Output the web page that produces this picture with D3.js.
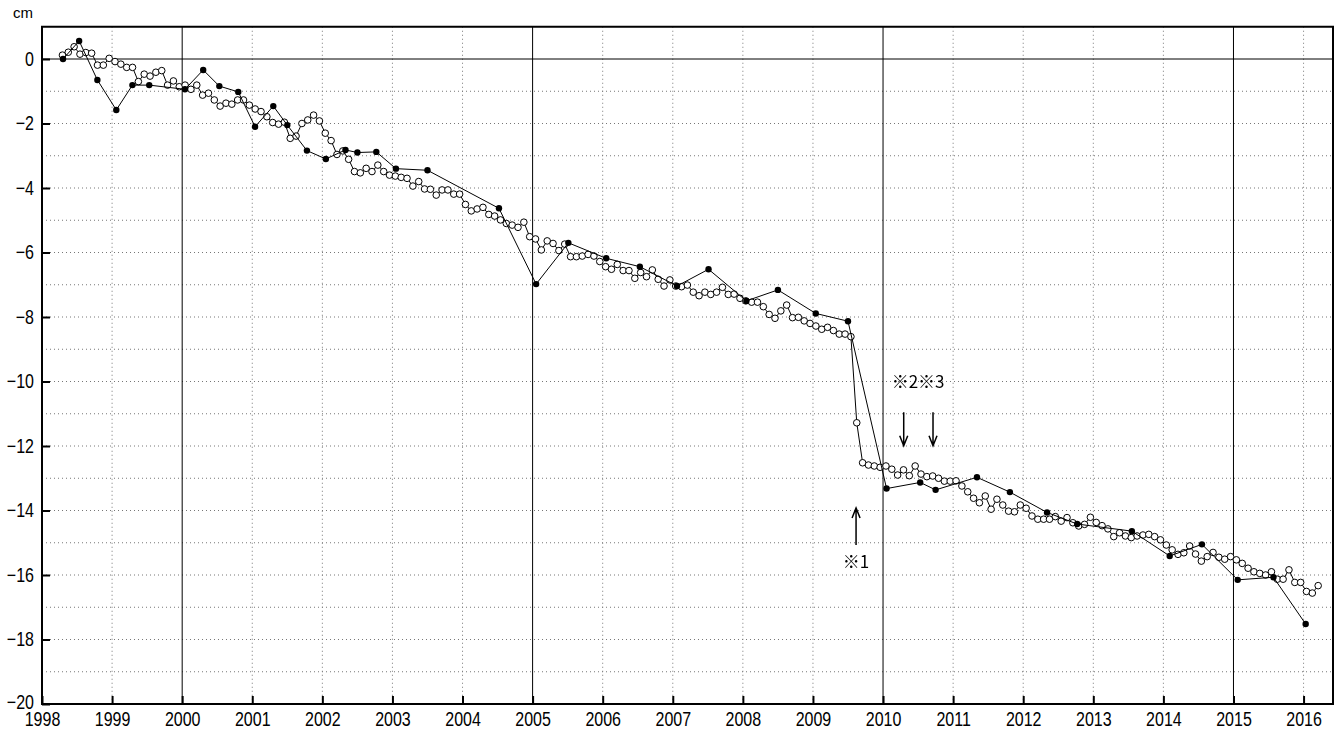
<!DOCTYPE html>
<html>
<head>
<meta charset="utf-8">
<script src="https://cdn.jsdelivr.net/npm/d3@7"></script>
<style>
  body { margin: 0; background: #fff; }
  text { font-family: "Liberation Sans", "Noto Sans CJK JP", sans-serif; fill: #000; }
  text.note { font-family: "Noto Sans CJK JP", sans-serif; }
  g.ann { filter: grayscale(1); }
</style>
</head>
<body>
<div id="chart"></div>
<script>
// monthly series (open circles), first value = April 1998
var monthlyStart = { year: 1998, month: 4 };
var monthlyValues = [
  0.12,0.21,0.38,0.15,0.2,0.18,-0.19,-0.19,0.02,-0.08,
  -0.16,-0.26,-0.26,-0.7,-0.47,-0.53,-0.41,-0.36,-0.81,-0.68,
  -0.86,-0.81,-0.94,-0.81,-1.12,-1.06,-1.27,-1.46,-1.37,-1.4,
  -1.27,-1.27,-1.43,-1.55,
  -1.63,-1.79,-1.97,-2.02,-1.96,-2.46,-2.39,-2.0,-1.89,-1.74,
  -1.92,-2.3,-2.53,-2.96,-2.85,-3.11,-3.49,-3.53,-3.39,-3.49,
  -3.29,-3.49,-3.6,-3.63,-3.67,-3.7,-3.94,-3.8,-4.03,-4.04,
  -4.22,-4.06,-4.06,-4.19,-4.19,
  -4.51,-4.71,-4.65,-4.6,-4.82,-4.87,-4.99,-5.1,-5.15,-5.22,
  -5.06,-5.51,-5.58,-5.92,-5.64,-5.72,-5.94,-5.74,-6.13,-6.13,
  -6.11,-6.06,-6.11,-6.28,-6.44,-6.52,-6.37,-6.56,-6.56,-6.8,
  -6.62,-6.75,-6.54,-6.83,-7.04,-6.85,-7.04,
  -7.06,-7.01,-7.23,-7.34,-7.23,-7.3,-7.23,-7.08,-7.3,-7.29,
  -7.42,-7.5,-7.54,-7.54,-7.68,-7.92,-8.04,-7.81,-7.63,-8.02,
  -8.01,-8.12,-8.2,-8.28,-8.38,-8.32,-8.42,-8.53,-8.53,-8.61,
  -11.28,-12.52,-12.59,-12.62,-12.66,-12.62,
  -12.72,-12.9,-12.74,-12.92,-12.62,-12.87,-12.95,-12.93,-13.0,-13.09,
  -13.09,-13.08,-13.24,-13.42,-13.62,-13.76,-13.55,-13.96,-13.65,-13.83,
  -14.02,-14.04,-13.83,-13.93,-14.17,-14.27,-14.27,-14.27,-14.19,-14.33,
  -14.22,-14.38,-14.48,-14.43,-14.21,-14.37,
  -14.47,-14.57,-14.81,-14.69,-14.79,-14.84,-14.79,-14.76,-14.74,-14.81,
  -14.91,-15.07,-15.22,-15.36,-15.31,-15.1,-15.35,-15.57,-15.43,-15.3,
  -15.45,-15.51,-15.43,-15.53,-15.64,-15.79,-15.9,-15.95,-16.0,-15.9,
  -16.13,-16.13,-15.84,-16.23,-16.23,-16.51,-16.56,-16.33
];

// survey series (filled dots), decimal years
var surveyDates = [
  1998.3,1998.53,1998.79,1999.06,1999.29,1999.53,2000.04,2000.3,2000.53,2000.8,
  2001.04,2001.3,2001.5,2001.78,2002.05,2002.33,2002.5,2002.77,2003.05,2003.5,
  2004.52,2005.05,2005.51,2006.05,2006.53,2007.06,2007.51,2008.05,2008.5,2009.04,
  2009.5,2010.05,2010.53,2010.75,2011.34,2011.81,2012.34,2012.77,2013.55,2014.09,
  2014.55,2015.06,2015.57,2016.03
];
var surveyValues = [
  0.0,0.56,-0.65,-1.58,-0.81,-0.81,-0.94,-0.34,-0.84,-1.02,
  -2.1,-1.46,-2.05,-2.84,-3.1,-2.82,-2.9,-2.88,-3.4,-3.45,
  -4.63,-6.98,-5.7,-6.18,-6.44,-7.04,-6.52,-7.5,-7.16,-7.89,
  -8.13,-13.32,-13.13,-13.36,-12.97,-13.43,-14.06,-14.42,-14.64,-15.41,
  -15.05,-16.15,-16.07,-17.52
];

var yearTicks = d3.range(1998, 2017);
var majorYears = [2000, 2005, 2010, 2015];
var valueTicks = d3.range(0, -21, -2);
var gridValues = d3.range(1, -20, -1);

var notes = [
  { label: "※1", x: 2009.615, labelY: -15.63, from: -15.07, to: -13.92 },
  { label: "※2", x: 2010.295, from: -10.95, to: -11.99 },
  { label: "※3", x: 2010.713, from: -10.95, to: -11.99 }
];

var W = 1341, H = 731;
var svg = d3.select("#chart").append("svg").attr("width", W).attr("height", H);

var x = d3.scaleLinear().domain([1998, 2016.42]).range([42, 1333]);
var y = d3.scaleLinear().domain([-20, 1]).range([704, 26.75]);

var monthly = monthlyValues.map(function(v, i) {
  return { t: monthlyStart.year + (monthlyStart.month - 1 + i + 0.5) / 12, v: v };
});
var survey = surveyDates.map(function(t, i) { return { t: t, v: surveyValues[i] }; });

// grid
var grid = svg.append("g");
grid.selectAll("line.vg").data(yearTicks.filter(function(d) { return d > 1998 && majorYears.indexOf(d) < 0; }))
  .enter().append("line")
  .attr("x1", function(d) { return x(d); }).attr("x2", function(d) { return x(d); })
  .attr("y1", y(1)).attr("y2", y(-20))
  .attr("stroke", "#777").attr("stroke-width", 1).attr("stroke-dasharray", "1,3");
grid.selectAll("line.hg").data(gridValues.filter(function(d) { return d !== 0 && d < 1 && d > -20; }))
  .enter().append("line")
  .attr("x1", x(1998)).attr("x2", x(2016.42))
  .attr("y1", function(d) { return y(d); }).attr("y2", function(d) { return y(d); })
  .attr("stroke", "#777").attr("stroke-width", 1).attr("stroke-dasharray", "1,3");
grid.selectAll("line.mj").data(majorYears)
  .enter().append("line")
  .attr("x1", function(d) { return x(d); }).attr("x2", function(d) { return x(d); })
  .attr("y1", y(1)).attr("y2", y(-20))
  .attr("stroke", "#000").attr("stroke-width", 1);
grid.append("line")
  .attr("x1", x(1998)).attr("x2", x(2016.42)).attr("y1", y(0)).attr("y2", y(0))
  .attr("stroke", "#000").attr("stroke-width", 1);

// axes
var xAxis = d3.axisBottom(x).tickValues(yearTicks).tickFormat(d3.format("d")).tickSizeInner(-8).tickSizeOuter(0).tickPadding(18);
var gx = svg.append("g").attr("transform", "translate(0," + y(-20) + ")").call(xAxis);
gx.select(".domain").remove();
gx.selectAll(".tick line").attr("stroke", "#000").attr("stroke-width", 2);
gx.selectAll(".tick text").attr("font-size", 20).attr("dy", "0.2em").attr("transform", "scale(0.8,1)");

var yAxis = d3.axisLeft(y).tickValues(valueTicks).tickSizeInner(-8).tickSizeOuter(0).tickPadding(14);
var gy = svg.append("g").attr("transform", "translate(" + x(1998) + ",0)").call(yAxis);
gy.select(".domain").remove();
gy.selectAll(".tick line").attr("stroke", "#000").attr("stroke-width", 2);
gy.selectAll(".tick text").attr("font-size", 20).attr("x", -10).attr("transform", "scale(0.8,1)")
  .attr("dy", function(d) { return d === -20 ? "0.2em" : "0.32em"; });

svg.append("rect")
  .attr("x", x(1998)).attr("y", y(1))
  .attr("width", x(2016.42) - x(1998)).attr("height", y(-20) - y(1))
  .attr("fill", "none").attr("stroke", "#000").attr("stroke-width", 2);

svg.append("text").attr("x", 13).attr("y", 18).attr("font-size", 15).text("cm");

// series
var line = d3.line().x(function(d) { return x(d.t); }).y(function(d) { return y(d.v); });

svg.append("path").datum(monthly).attr("d", line)
  .attr("fill", "none").attr("stroke", "#000").attr("stroke-width", 1);
svg.selectAll("circle.m").data(monthly).enter().append("circle")
  .attr("cx", function(d) { return x(d.t); }).attr("cy", function(d) { return y(d.v); })
  .attr("r", 3.3).attr("fill", "#fff").attr("stroke", "#000").attr("stroke-width", 1);

svg.append("path").datum(survey).attr("d", line)
  .attr("fill", "none").attr("stroke", "#000").attr("stroke-width", 1);
svg.selectAll("circle.s").data(survey).enter().append("circle")
  .attr("cx", function(d) { return x(d.t); }).attr("cy", function(d) { return y(d.v); })
  .attr("r", 3.2).attr("fill", "#000");

// annotations
var ann = svg.append("g").attr("class", "ann");
notes.forEach(function(n) {
  var x0 = x(n.x), y0 = y(n.from), y1 = y(n.to);
  var dir = y1 > y0 ? 1 : -1;
  ann.append("path")
    .attr("d", "M" + x0 + "," + y0 + "L" + x0 + "," + y1 +
               "M" + (x0 - 4) + "," + (y1 - dir * 10) + "L" + x0 + "," + y1 + "L" + (x0 + 4) + "," + (y1 - dir * 10))
    .attr("fill", "none").attr("stroke", "#000").attr("stroke-width", 1.5);
  if (n.labelY !== undefined) {
    ann.append("text").attr("class", "note").attr("x", x0).attr("y", y(n.labelY)).attr("text-anchor", "middle")
      .attr("dominant-baseline", "middle").attr("font-size", 17).text(n.label);
  }
});
ann.append("text").attr("class", "note").attr("x", x(2010.5)).attr("y", y(-10.05)).attr("text-anchor", "middle")
  .attr("dominant-baseline", "middle").attr("font-size", 17).text(notes[1].label + notes[2].label);
</script>
</body>
</html>
